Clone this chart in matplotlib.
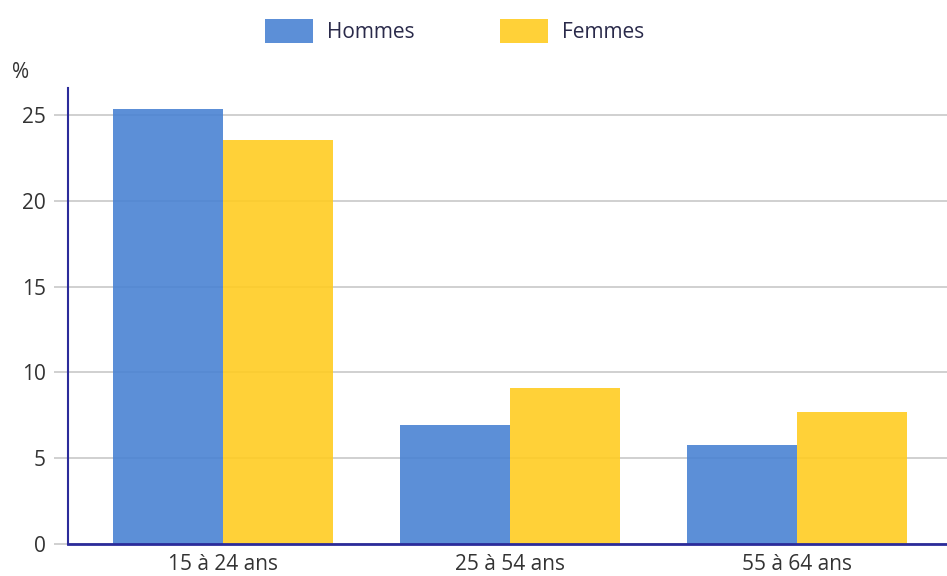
import matplotlib.pyplot as plt
import numpy as np

categories = ["15 à 24 ans", "25 à 54 ans", "55 à 64 ans"]
hommes = [25.35, 6.95, 5.75]
femmes = [23.55, 9.1, 7.7]
yticks = [0, 5, 10, 15, 20, 25]

plt.rcParams['font.family'] = ['Open Sans', 'DejaVu Sans']
fs = 15

fig = plt.figure(figsize=(9.47, 5.76), dpi=100)
ax = fig.add_axes([68/947, 32/576, 1 - 68/947, (544-88)/576])

x = np.arange(len(categories))
w = 110/287
ax.bar(x - w/2, hommes, w, color="#4a83d3", alpha=0.9, label="Hommes", zorder=2)
ax.bar(x + w/2, femmes, w, color="#ffcc22", alpha=0.9, label="Femmes", zorder=2)

ax.set_xlim(-0.54, 2.523)
ax.set_ylim(0, 26.57)
ax.set_yticks(yticks)
ax.set_xticks(x)
ax.set_xticklabels(categories)
ax.yaxis.grid(True, color="#c8c8c8", linewidth=1.2, zorder=1)
ax.set_axisbelow(True)
ax.tick_params(axis="y", length=10, color="#c8c8c8", width=1.2, labelsize=fs, labelcolor="#333333", pad=6)
ax.tick_params(axis="x", length=0, labelsize=fs, labelcolor="#333333", pad=7)

for s in ["top", "right"]:
    ax.spines[s].set_visible(False)
ax.spines["left"].set_color("#2b2b9a")
ax.spines["left"].set_linewidth(1.5)
ax.spines["bottom"].set_color("#2b2b9a")
ax.spines["bottom"].set_linewidth(2)

fig.text(21/947, 1 - 72/576, "%", fontsize=fs, color="#333333", ha="center", va="center")

fig.legend(loc="center", bbox_to_anchor=(455/947, 1 - 31/576), ncol=2, frameon=False,
           fontsize=fs, handlelength=2.3, handleheight=1.35, handletextpad=0.67,
           columnspacing=4.1, labelcolor="#2a2a4a")

fig.savefig("out.png", dpi=100)
